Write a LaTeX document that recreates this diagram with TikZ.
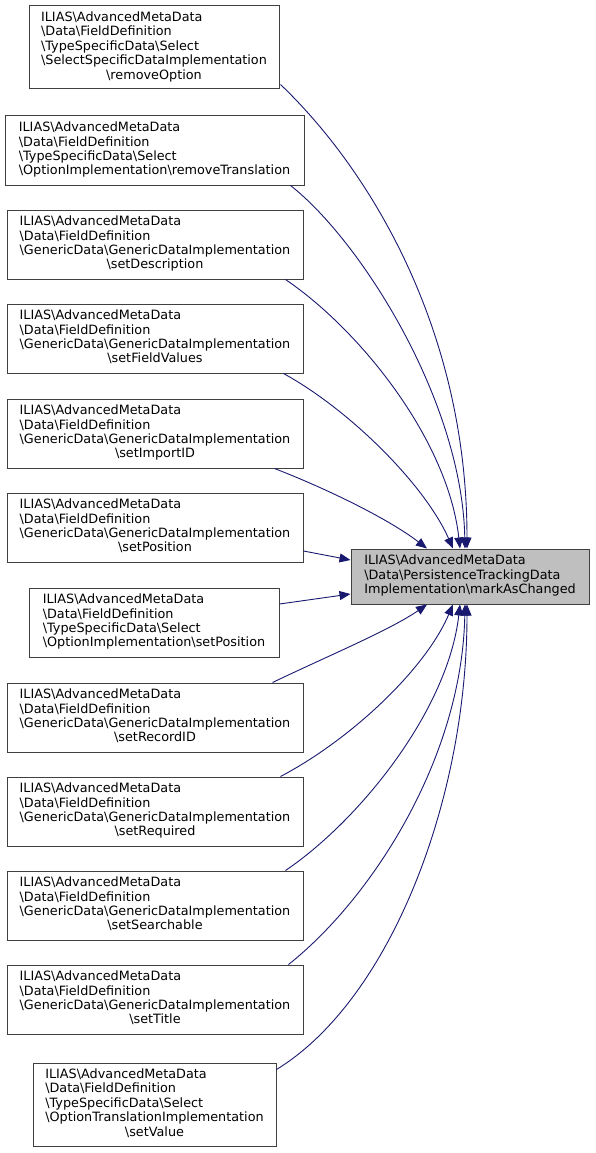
\documentclass[tikz,border=0pt]{standalone}
\usepackage{fontspec}
\setmainfont{DejaVu Sans}
\usetikzlibrary{arrows.meta,calc}
\definecolor{mblue}{HTML}{191970}
\definecolor{boxgray}{HTML}{BFBFBF}
\newcommand{\bsl}{\textbackslash}
\newcommand{\lastc}[1]{\multicolumn{1}{@{}c@{}}{#1}}
\begin{document}
\begin{tikzpicture}[x=1pt,y=-1pt,
  box/.style={draw=black!75, line width=1pt, fill=white, inner sep=0pt, font=\fontsize{12.8}{14.4}\selectfont},
  edge/.style={draw=mblue, line width=0.9pt, -{Triangle[length=11pt,width=9pt]}}]
\useasboundingbox (0,0) rectangle (595,1153);
\renewcommand{\arraystretch}{1}
\node[box, fill=boxgray, minimum width=238pt, minimum height=55pt] (t) at (470,576.5)
 {\begin{tabular}{@{}l@{}}ILIAS\bsl AdvancedMetaData\\\bsl Data\bsl PersistenceTrackingData\\Implementation\bsl markAsChanged\end{tabular}};
\node[box, minimum width=250pt, minimum height=83pt] (n1) at (154,47.5)
 {\begin{tabular}{@{}l@{}}ILIAS\bsl AdvancedMetaData\\\bsl Data\bsl FieldDefinition\\\bsl TypeSpecificData\bsl Select\\\bsl SelectSpecificDataImplementation\\\lastc{\bsl removeOption}\end{tabular}};
\node[box, minimum width=299pt, minimum height=69pt] (n2) at (154.5,150.5)
 {\begin{tabular}{@{}l@{}}ILIAS\bsl AdvancedMetaData\\\bsl Data\bsl FieldDefinition\\\bsl TypeSpecificData\bsl Select\\\bsl OptionImplementation\bsl removeTranslation\end{tabular}};
\node[box, minimum width=296pt, minimum height=69pt] (n3) at (155,244.5)
 {\begin{tabular}{@{}l@{}}ILIAS\bsl AdvancedMetaData\\\bsl Data\bsl FieldDefinition\\\bsl GenericData\bsl GenericDataImplementation\\\lastc{\bsl setDescription}\end{tabular}};
\node[box, minimum width=296pt, minimum height=69pt] (n4) at (155,338.5)
 {\begin{tabular}{@{}l@{}}ILIAS\bsl AdvancedMetaData\\\bsl Data\bsl FieldDefinition\\\bsl GenericData\bsl GenericDataImplementation\\\lastc{\bsl setFieldValues}\end{tabular}};
\node[box, minimum width=296pt, minimum height=69pt] (n5) at (155,433.5)
 {\begin{tabular}{@{}l@{}}ILIAS\bsl AdvancedMetaData\\\bsl Data\bsl FieldDefinition\\\bsl GenericData\bsl GenericDataImplementation\\\lastc{\bsl setImportID}\end{tabular}};
\node[box, minimum width=296pt, minimum height=69pt] (n6) at (155,527.5)
 {\begin{tabular}{@{}l@{}}ILIAS\bsl AdvancedMetaData\\\bsl Data\bsl FieldDefinition\\\bsl GenericData\bsl GenericDataImplementation\\\lastc{\bsl setPosition}\end{tabular}};
\node[box, minimum width=250pt, minimum height=69pt] (n7) at (154,622.5)
 {\begin{tabular}{@{}l@{}}ILIAS\bsl AdvancedMetaData\\\bsl Data\bsl FieldDefinition\\\bsl TypeSpecificData\bsl Select\\\bsl OptionImplementation\bsl setPosition\end{tabular}};
\node[box, minimum width=296pt, minimum height=69pt] (n8) at (155,717.5)
 {\begin{tabular}{@{}l@{}}ILIAS\bsl AdvancedMetaData\\\bsl Data\bsl FieldDefinition\\\bsl GenericData\bsl GenericDataImplementation\\\lastc{\bsl setRecordID}\end{tabular}};
\node[box, minimum width=296pt, minimum height=69pt] (n9) at (155,811.5)
 {\begin{tabular}{@{}l@{}}ILIAS\bsl AdvancedMetaData\\\bsl Data\bsl FieldDefinition\\\bsl GenericData\bsl GenericDataImplementation\\\lastc{\bsl setRequired}\end{tabular}};
\node[box, minimum width=296pt, minimum height=69pt] (n10) at (155,905.5)
 {\begin{tabular}{@{}l@{}}ILIAS\bsl AdvancedMetaData\\\bsl Data\bsl FieldDefinition\\\bsl GenericData\bsl GenericDataImplementation\\\lastc{\bsl setSearchable}\end{tabular}};
\node[box, minimum width=296pt, minimum height=69pt] (n11) at (155,999.5)
 {\begin{tabular}{@{}l@{}}ILIAS\bsl AdvancedMetaData\\\bsl Data\bsl FieldDefinition\\\bsl GenericData\bsl GenericDataImplementation\\\lastc{\bsl setTitle}\end{tabular}};
\node[box, minimum width=243pt, minimum height=83pt] (n12) at (154.5,1104.5)
 {\begin{tabular}{@{}l@{}}ILIAS\bsl AdvancedMetaData\\\bsl Data\bsl FieldDefinition\\\bsl TypeSpecificData\bsl Select\\\bsl OptionTranslationImplementation\\\lastc{\bsl setValue}\end{tabular}};
% edges
\draw[edge] ($(n1.south east)+(1,-5)$) .. controls (370,170) and (467,330) .. ([xshift=-3pt]t.north);
\draw[edge] ($(n2.south east)+(-14,0)$) .. controls (360,240) and (462,400) .. ([xshift=-5pt]t.north);
\draw[edge] ($(n3.south east)+(-18,0)$) .. controls (360,330) and (448,440) .. ([xshift=-10pt]t.north);
\draw[edge] ($(n4.south east)+(-20,0)$) .. controls (350,410) and (425,485) .. ([xshift=-17pt]t.north);
\draw[edge] ($(n5.south east)+(-29,0)$) .. controls (330,490) and (390,520) .. ([xshift=-43pt]t.north);
\draw[edge] ($(n6.east)+(0,23.5)$) -- ($(t.west)+(0,-16.5)$);
\draw[edge] ($(n7.east)+(0,-18.5)$) -- ($(t.west)+(0,17.5)$);
\draw[edge] ($(n8.north east)+(-31,0)$) .. controls (330,655) and (390,630) .. ([xshift=-43pt]t.south);
\draw[edge] ($(n9.north east)+(-23,0)$) .. controls (350,740) and (425,670) .. ([xshift=-17pt]t.south);
\draw[edge] ($(n10.north east)+(-18,0)$) .. controls (360,820) and (448,710) .. ([xshift=-10pt]t.south);
\draw[edge] ($(n11.north east)+(-15,0)$) .. controls (370,900) and (462,760) .. ([xshift=-5pt]t.south);
\draw[edge] ($(n12.north east)+(0,7)$) .. controls (390,1000) and (467,800) .. ([xshift=-3pt]t.south);
\end{tikzpicture}
\end{document}
